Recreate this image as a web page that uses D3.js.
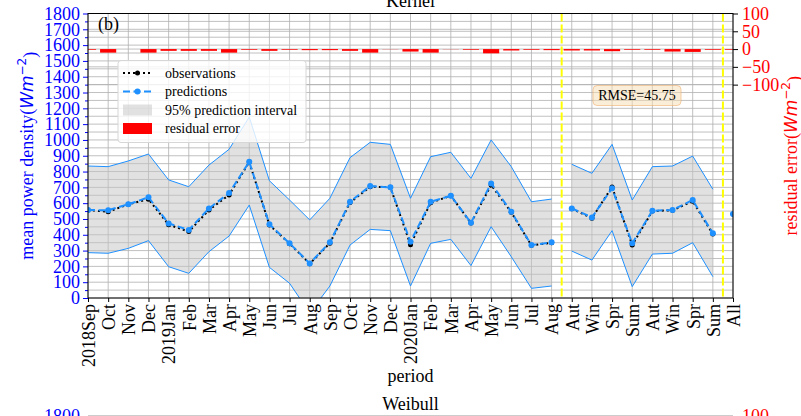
<!DOCTYPE html>
<html>
<head>
<meta charset="utf-8">
<script src="https://cdn.jsdelivr.net/npm/d3@7"></script>
<style>
  body { margin: 0; background: #fff; }
  svg { display: block; }
  text { font-family: "Liberation Serif", "Times New Roman", serif; }
</style>
</head>
<body>
<div id="chart"></div>
<script>
// x categories: 24 months, 8 seasons, then the whole period
var periods = ["2018Sep","Oct","Nov","Dec","2019Jan","Feb","Mar","Apr","May","Jun","Jul","Aug",
  "Sep","Oct","Nov","Dec","2020Jan","Feb","Mar","Apr","May","Jun","Jul","Aug",
  "Aut","Win","Spr","Sum","Aut","Win","Spr","Sum","All"];

// mean power density (W m^-2)
var observations = [557, 545, 593, 625, 464, 420, 557, 652, 860, 462, 344, 217, 347, 604, 704, 701,
  337, 603, 647, 474, 715, 542, 333, 350, 565, 505, 703, 335, 550, 555, 612, 405, 531];
var predictions = [557, 555, 593, 637, 472, 430, 567, 664, 862, 466, 346, 219, 352, 609, 709, 700,
  356, 609, 647, 476, 725, 546, 335, 352, 567, 510, 694, 346, 552, 557, 620, 409, 531];
var upperBound = [835, 831, 867, 911, 747, 704, 841, 941, 1145, 742, 620, 494, 631, 888, 985, 972,
  631, 894, 922, 757, 1000, 831, 609, 626, 846, 789, 972, 620, 831, 835, 898, 688, null];
var lowerBound = [287, 283, 314, 363, 198, 156, 293, 392, 588, 194, 93, -95, 76, 335, 434, 426,
  76, 346, 371, 205, 451, 261, 61, 76, 297, 240, 426, 72, 278, 283, 350, 135, null];
// residual error, right axis
var residuals = [-2, -10, 0, -10, -5, -5, -5, -10, -2, -5, -2, -3, -3, -5, -10, -0.5, -7, -10, -0.5,
  -2, -12, -4, -2, -3, -4, -4, -6, -2, -2, -7, -8, -2, -2];

// groups that are joined by lines
var segments = [[0, 23], [24, 31], [32, 32]];
var dividers = [23.5, 31.5];
var leftTicks = d3.range(0, 1801, 100);
var leftMinor = d3.range(50, 1800, 100);
var rightTicks = [100, 50, 0, -50, -100];
var rmseLabel = "RMSE=45.75";

var width = 801, height = 416;
var padLeft = 88, padTop = 13.5, plotW = 733 - 88, plotH = 298 - 13.5;

var predColor = "#1e90ff";
var gridColor = "#b0b0b0";

var svg = d3.select("#chart")
  .append("svg")
    .attr("width", width)
    .attr("height", height);

var g = svg.append("g")
    .attr("transform", "translate(" + padLeft + "," + padTop + ")");

var x = d3.scaleLinear().domain([0, periods.length - 1]).range([0, plotW]);
var y = d3.scaleLinear().domain([0, 1800]).range([plotH, 0]);
var yRight = d3.scaleLinear().domain([-700, 100]).range([plotH, 0]);
var step = x(1) - x(0);

svg.append("defs").append("clipPath").attr("id", "plotclip")
  .append("rect").attr("width", plotW).attr("height", plotH);

// grid
var grid = g.append("g");
grid.selectAll("line.h")
  .data(d3.range(0, 1801, 50))
  .enter().append("line")
    .attr("x1", 0).attr("x2", plotW)
    .attr("y1", function(d) { return y(d); })
    .attr("y2", function(d) { return y(d); })
    .style("stroke", gridColor).style("stroke-width", 0.8);
grid.selectAll("line.r")
  .data(rightTicks)
  .enter().append("line")
    .attr("x1", 0).attr("x2", plotW)
    .attr("y1", function(d) { return yRight(d); })
    .attr("y2", function(d) { return yRight(d); })
    .style("stroke", gridColor).style("stroke-width", 0.8);
grid.selectAll("line.v")
  .data(d3.range(periods.length))
  .enter().append("line")
    .attr("x1", function(d) { return x(d); })
    .attr("x2", function(d) { return x(d); })
    .attr("y1", 0).attr("y2", plotH)
    .style("stroke", gridColor).style("stroke-width", 0.8);

var plot = g.append("g").attr("clip-path", "url(#plotclip)");

var area = d3.area()
  .x(function(i) { return x(i); })
  .y0(function(i) { return y(lowerBound[i]); })
  .y1(function(i) { return y(upperBound[i]); });
var upLine = d3.line().x(function(i) { return x(i); }).y(function(i) { return y(upperBound[i]); });
var lowLine = d3.line().x(function(i) { return x(i); }).y(function(i) { return y(lowerBound[i]); });
var obsLine = d3.line().x(function(i) { return x(i); }).y(function(i) { return y(observations[i]); });
var predLine = d3.line().x(function(i) { return x(i); }).y(function(i) { return y(predictions[i]); });

var ranges = segments.map(function(s) { return d3.range(s[0], s[1] + 1); });
var bands = ranges.filter(function(r) { return r.length > 1; });

// 95% prediction interval
plot.selectAll("path.band")
  .data(bands)
  .enter().append("path")
    .attr("d", area)
    .style("fill", "#c4c4c4")
    .style("fill-opacity", 0.5);
plot.selectAll("path.up")
  .data(bands)
  .enter().append("path")
    .attr("d", upLine)
    .style("fill", "none").style("stroke", predColor).style("stroke-width", 1);
plot.selectAll("path.low")
  .data(bands)
  .enter().append("path")
    .attr("d", lowLine)
    .style("fill", "none").style("stroke", predColor).style("stroke-width", 1);

// residual bars
plot.selectAll("rect.res")
  .data(residuals)
  .enter().append("rect")
    .attr("x", function(d, i) { return x(i) - step * 0.4; })
    .attr("width", step * 0.8)
    .attr("y", function(d) { return yRight(Math.max(0, d)); })
    .attr("height", function(d) { return Math.abs(yRight(d) - yRight(0)); })
    .style("fill", "#ff0000");

// season dividers
plot.selectAll("line.div")
  .data(dividers)
  .enter().append("line")
    .attr("x1", function(d) { return x(d); })
    .attr("x2", function(d) { return x(d); })
    .attr("y1", 0).attr("y2", plotH)
    .style("stroke", "#ffff00").style("stroke-width", 2)
    .style("stroke-dasharray", "8,3");

// observations
plot.selectAll("path.obs")
  .data(ranges)
  .enter().append("path")
    .attr("d", obsLine)
    .style("fill", "none").style("stroke", "#000").style("stroke-width", 2)
    .style("stroke-dasharray", "2,3");
plot.selectAll("circle.obs")
  .data(observations)
  .enter().append("circle")
    .attr("cx", function(d, i) { return x(i); })
    .attr("cy", function(d) { return y(d); })
    .attr("r", 2.5)
    .style("fill", "#000");

// predictions
plot.selectAll("path.pred")
  .data(ranges)
  .enter().append("path")
    .attr("d", predLine)
    .style("fill", "none").style("stroke", predColor).style("stroke-width", 2)
    .style("stroke-dasharray", "7,3.5");
plot.selectAll("circle.pred")
  .data(predictions)
  .enter().append("circle")
    .attr("cx", function(d, i) { return x(i); })
    .attr("cy", function(d) { return y(d); })
    .attr("r", 3)
    .style("fill", predColor);

// axes
var yAxis = g.append("g")
    .call(d3.axisLeft(y).tickValues(leftTicks).tickSize(5).tickPadding(3).tickFormat(d3.format("d")));
g.append("g")
    .call(d3.axisLeft(y).tickValues(leftMinor).tickSize(3).tickFormat(""));
yAxis.selectAll("text").style("fill", "#0000ff").style("font-size", "18px");
g.selectAll(".tick line").style("stroke", "#0000ff");

var rAxis = g.append("g")
    .attr("transform", "translate(" + plotW + ",0)")
    .call(d3.axisRight(yRight).tickValues(rightTicks).tickSize(5).tickPadding(4).tickFormat(d3.format("d")));
rAxis.selectAll("text").style("fill", "#ff0000").style("font-size", "18px");

var xAxis = g.append("g")
    .attr("transform", "translate(0," + plotH + ")")
    .call(d3.axisBottom(x).tickValues(d3.range(periods.length)).tickSize(4)
      .tickFormat(function(i) { return periods[i]; }));
xAxis.selectAll("text")
    .attr("transform", "rotate(-90)")
    .attr("text-anchor", "end")
    .attr("x", -6).attr("y", 0).attr("dy", "0.35em")
    .style("fill", "#000").style("font-size", "18px");

g.selectAll(".domain").remove();
g.append("rect")
    .attr("width", plotW).attr("height", plotH)
    .style("fill", "none").style("stroke", "#000").style("stroke-width", 1);

// texts
svg.append("text").attr("x", padLeft + plotW / 2).attr("y", 7)
    .attr("text-anchor", "middle").style("font-size", "18px").text("Kernel");
svg.append("text").attr("x", 98).attr("y", 30)
    .style("font-size", "18px").text("(b)");
svg.append("text").attr("x", padLeft + plotW / 2).attr("y", 382)
    .attr("text-anchor", "middle").style("font-size", "18px").text("period");

function unitLabel(sel, name, color) {
  sel.attr("text-anchor", "middle").style("font-size", "18px").style("fill", color);
  sel.append("tspan").text(name + "(");
  sel.append("tspan").style("font-family", "'DejaVu Sans'").style("font-style", "italic")
    .style("font-size", "17px").text("Wm");
  sel.append("tspan").attr("dy", "-0.55em").style("font-family", "'DejaVu Sans'")
    .style("font-size", "12px").text("−2");
  sel.append("tspan").attr("dy", "0.55em").text(")");
}
unitLabel(svg.append("text").attr("transform", "translate(33," + (padTop + plotH / 2) + ") rotate(-90)"),
  "mean power density", "#0000ff");
unitLabel(svg.append("text").attr("transform", "translate(797," + (padTop + plotH / 2) + ") rotate(-90)"),
  "residual error", "#ff0000");

// legend
var legend = svg.append("g").attr("transform", "translate(118,60.5)");
legend.append("rect")
    .attr("width", 188).attr("height", 82).attr("rx", 3)
    .style("fill", "#fff").style("fill-opacity", 0.8)
    .style("stroke", "#d6d6d6").style("stroke-width", 1);
var rows = [12.5, 31, 49.5, 68];
legend.append("line").attr("x1", 5).attr("x2", 34).attr("y1", rows[0]).attr("y2", rows[0])
    .style("stroke", "#000").style("stroke-width", 2).style("stroke-dasharray", "2,3");
legend.append("circle").attr("cx", 19.5).attr("cy", rows[0]).attr("r", 2.5).style("fill", "#000");
legend.append("line").attr("x1", 5).attr("x2", 34).attr("y1", rows[1]).attr("y2", rows[1])
    .style("stroke", predColor).style("stroke-width", 2).style("stroke-dasharray", "7,3.5");
legend.append("circle").attr("cx", 19.5).attr("cy", rows[1]).attr("r", 3).style("fill", predColor);
legend.append("rect").attr("x", 5).attr("y", rows[2] - 5.5).attr("width", 29).attr("height", 11)
    .style("fill", "#c4c4c4").style("fill-opacity", 0.5);
legend.append("rect").attr("x", 5).attr("y", rows[3] - 5.5).attr("width", 29).attr("height", 11)
    .style("fill", "#ff0000");
legend.selectAll("text.l")
  .data(["observations", "predictions", "95% prediction interval", "residual error"])
  .enter().append("text")
    .attr("x", 47)
    .attr("y", function(d, i) { return rows[i]; })
    .attr("dy", "0.35em")
    .style("font-size", "14px")
    .text(function(d) { return d; });

// RMSE box
svg.append("rect")
    .attr("x", 593).attr("y", 85.5).attr("width", 88).attr("height", 20).attr("rx", 4)
    .style("fill", "#f5deb3").style("fill-opacity", 0.5)
    .style("stroke", "#f0b070").style("stroke-opacity", 0.6);
svg.append("text").attr("x", 637).attr("y", 95.5).attr("dy", "0.35em")
    .attr("text-anchor", "middle").style("font-size", "14px").text(rmseLabel);

// start of the next panel
var nextTop = 416.3;
svg.append("text").attr("x", padLeft + plotW / 2).attr("y", 410)
    .attr("text-anchor", "middle").style("font-size", "18px").text("Weibull");
svg.append("line").attr("x1", padLeft).attr("x2", padLeft + plotW).attr("y1", nextTop).attr("y2", nextTop)
    .style("stroke", "#000");
svg.append("text").attr("x", padLeft - 8).attr("y", nextTop).attr("dy", "0.32em")
    .attr("text-anchor", "end").style("font-size", "18px").style("fill", "#0000ff").text("1800");
svg.append("text").attr("x", padLeft + plotW + 9).attr("y", nextTop).attr("dy", "0.32em")
    .style("font-size", "18px").style("fill", "#ff0000").text("100");
</script>
</body>
</html>
